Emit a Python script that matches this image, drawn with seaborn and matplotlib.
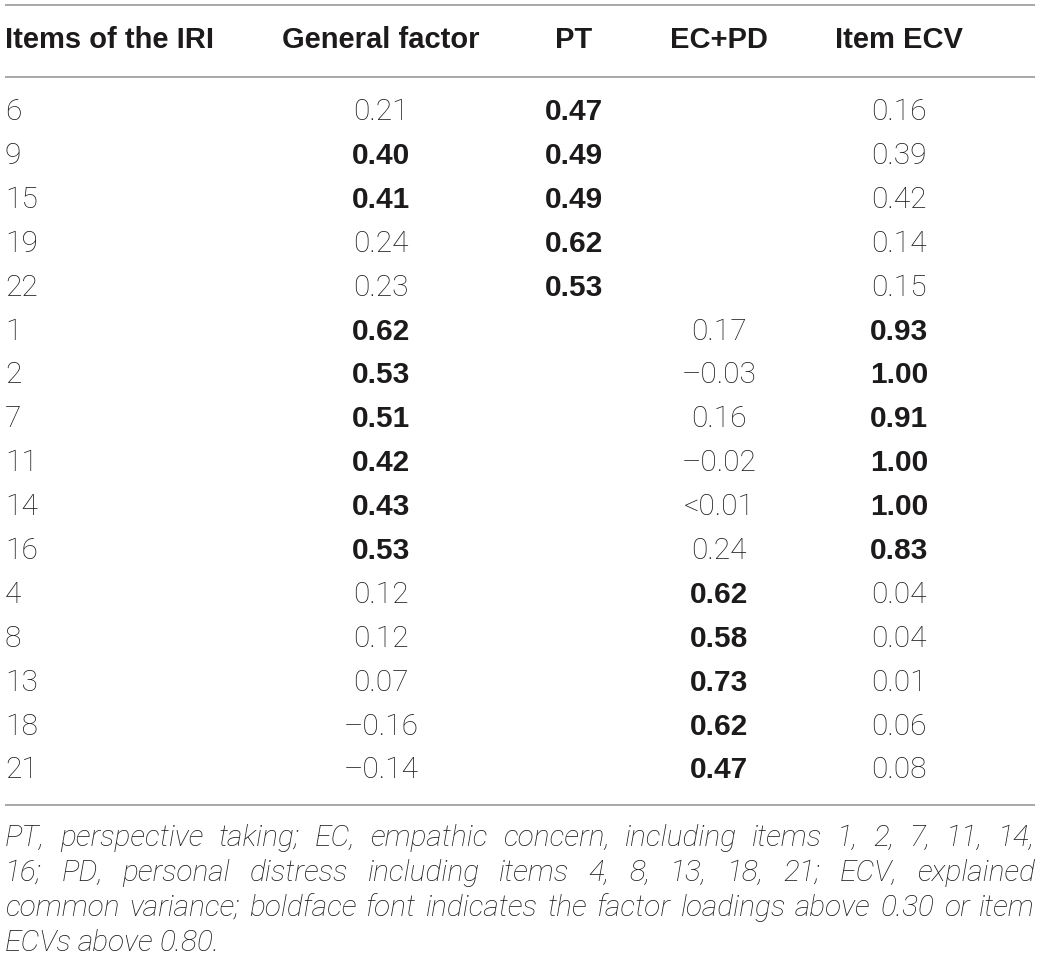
import matplotlib
matplotlib.use("Agg")
import matplotlib.pyplot as plt
import seaborn as sns

# table contents
items = ["6", "9", "15", "19", "22", "1", "2", "7", "11", "14", "16", "4", "8", "13", "18", "21"]
general_factor = [0.21, 0.40, 0.41, 0.24, 0.23, 0.62, 0.53, 0.51, 0.42, 0.43, 0.53,
                  0.12, 0.12, 0.07, -0.16, -0.14]
pt_loadings = [0.47, 0.49, 0.49, 0.62, 0.53] + [None] * 11
ec_pd_loadings = [None] * 5 + [0.17, -0.03, 0.16, -0.02, "<0.01", 0.24,
                               0.62, 0.58, 0.73, 0.62, 0.47]
item_ecv = [0.16, 0.39, 0.42, 0.14, 0.15, 0.93, 1.00, 0.91, 1.00, 1.00, 0.83,
            0.04, 0.04, 0.01, 0.06, 0.08]
headers = ["Items of the IRI", "General factor", "PT", "EC+PD", "Item ECV"]
footnote_lines = [
    "PT, perspective taking; EC, empathic concern, including items 1, 2, 7, 11, 14,",
    "16; PD, personal distress including items 4, 8, 13, 18, 21; ECV, explained",
    "common variance; boldface font indicates the factor loadings above 0.30 or item",
    "ECVs above 0.80.",
]
LOADING_CUT = 0.30
ECV_CUT = 0.80

TXT = "#1c1a1b"
RULE = "#a0a0a0"
BODY_FONT = dict(family=["Roboto", "DejaVu Sans"], weight="light")
HEAD_FONT = dict(family=["Liberation Sans", "DejaVu Sans"], weight="bold")


def fmt(v):
    if v is None:
        return ""
    if isinstance(v, str):
        return v
    return f"{v:.2f}".replace("-", "\u2013")


def is_bold(v, cut):
    return isinstance(v, float) and v > cut


sns.set_theme(style="white")
fig = plt.figure(figsize=(10.4, 9.61), dpi=100)
ax = fig.add_axes([0, 0, 1, 1])
ax.set_xlim(0, 1040)
ax.set_ylim(961, 0)
ax.axis("off")

col_x = [5, 381, 574, 719, 899]
header_y = 40
row_y0 = 112
row_step = 43.9
fs_head = 21
fs_body = 21.5

# rules
for y in (5, 77, 805):
    ax.plot([5, 1035], [y, y], color=RULE, lw=1.3, solid_capstyle="butt")

for i, h in enumerate(headers):
    ax.text(col_x[i], header_y, h, ha="left" if i == 0 else "center", va="center",
            fontsize=fs_head, color=TXT, **HEAD_FONT)

columns = [(general_factor, LOADING_CUT), (pt_loadings, LOADING_CUT),
           (ec_pd_loadings, LOADING_CUT), (item_ecv, ECV_CUT)]
for r, item in enumerate(items):
    y = row_y0 + r * row_step
    ax.text(col_x[0], y, item, ha="left", va="center", fontsize=fs_body, color=TXT, **BODY_FONT)
    for c, (vals, cut) in enumerate(columns):
        v = vals[r]
        font = HEAD_FONT if is_bold(v, cut) else BODY_FONT
        ax.text(col_x[c + 1], y, fmt(v), ha="center", va="center",
                fontsize=21.5, color=TXT, **font)

# justified italic footnote
renderer = fig.canvas.get_renderer()
foot_y = [838, 873, 908, 943]
left, right = 5, 1035
for k, line in enumerate(footnote_lines):
    words = line.split(" ")
    arts = [ax.text(0, foot_y[k], w, ha="left", va="center", fontsize=21.5,
                    color=TXT, style="italic", **BODY_FONT) for w in words]
    widths = [a.get_window_extent(renderer).width for a in arts]
    if k == len(footnote_lines) - 1:
        gap = 6
    else:
        gap = (right - left - sum(widths)) / (len(words) - 1)
    x = left
    for a, w in zip(arts, widths):
        a.set_x(x)
        x += w + gap

fig.savefig("out.png", dpi=100)
